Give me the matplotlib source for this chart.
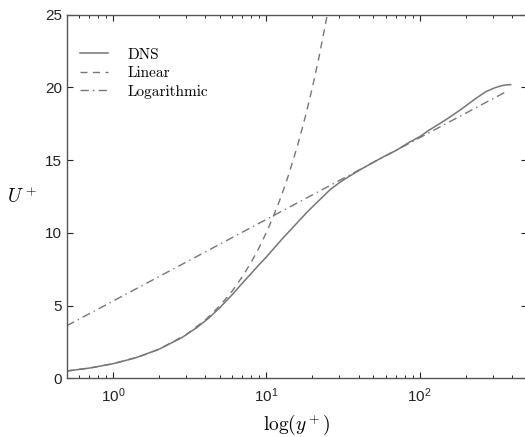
import matplotlib
matplotlib.use("Agg")
import matplotlib.pyplot as plt
from matplotlib.ticker import FuncFormatter, LogLocator
import numpy as np

# values
dns_y = [0.5, 0.7, 1.0, 1.4, 2.0, 2.8, 3.5, 4.2, 5.0, 6.0, 7.0, 8.0, 9.0, 10.0,
         11.0, 12.7, 14.5, 16.4, 18.5, 21.0, 23.5, 26.0, 30.0, 35.0, 42.0, 50.0,
         60.0, 70.0, 85.0, 100.0, 115.0, 135.0, 160.0, 190.0, 230.0, 270.0,
         310.0, 340.0, 365.0, 392.0]
dns_u = [0.5, 0.7, 1.0, 1.4, 2.0, 2.78, 3.46, 4.12, 4.87, 5.75, 6.55, 7.22, 7.82, 8.33,
         8.83, 9.58, 10.23, 10.84, 11.43, 12.0, 12.5, 12.95, 13.45, 13.9, 14.4, 14.85,
         15.3, 15.65, 16.2, 16.6, 17.05, 17.5, 18.0, 18.55, 19.2, 19.7,
         19.97, 20.1, 20.16, 20.18]

lin_y = [0.5, 0.75, 1, 1.5, 2, 3, 4, 5, 6, 7, 8, 9, 10, 11, 12, 13, 14, 16, 18,
         20, 22, 25]
lin_u = [0.5, 0.75, 1, 1.5, 2, 3, 4, 5, 6, 7, 8, 9, 10, 11, 12, 13, 14, 16, 18,
         20, 22, 25]

log_y = [0.5, 365.0]
log_u = [3.61, 19.69]

plt.rcParams['font.family'] = 'Liberation Sans'
plt.rcParams['mathtext.fontset'] = 'cm'

fig = plt.figure(figsize=(5.25, 4.37), dpi=100)
ax = fig.add_axes([0.127, 0.1343, 0.8766, 0.8325])

grey = '#767676'
ax.plot(dns_y, dns_u, '-', color=grey, lw=1.1, label='DNS')
ax.plot(lin_y, lin_u, '--', color=grey, lw=1.0, dashes=(5, 4), label='Linear')
ax.plot(log_y, log_u, '-.', color=grey, lw=1.0, dashes=(6, 3, 1, 3), label='Logarithmic')

ax.set_xscale('log')
ax.set_xlim(0.5, 500)
ax.set_ylim(0, 25)
ax.set_yticks([0, 5, 10, 15, 20, 25])
ax.xaxis.set_major_locator(LogLocator(base=10, numticks=10))
ax.xaxis.set_major_formatter(FuncFormatter(lambda v, p: r'$\mathregular{10^{%d}}$' % round(np.log10(v))))

ax.tick_params(which='both', direction='in', top=True, right=True, labelsize=11,
               colors='#222222')
ax.tick_params(which='major', length=4, width=0.8)
ax.tick_params(axis='x', pad=6)
ax.tick_params(which='minor', length=2.5, width=0.7)
for s in ax.spines.values():
    s.set_color('#555555')
    s.set_linewidth(1.0)

ax.set_xlabel(r'$\log(y^+)$', fontsize=14, labelpad=5)
ax.set_ylabel(r'$U^+$', fontsize=14, rotation=0)
ax.yaxis.set_label_coords(-0.098, 0.47)

ax.legend(loc='upper left', bbox_to_anchor=(0.0, 0.946), frameon=False,
          prop={'family': 'cmr10', 'size': 11}, handlelength=1.8,
          handletextpad=1.3, labelspacing=0.3)

fig.savefig('out.png', dpi=100)
